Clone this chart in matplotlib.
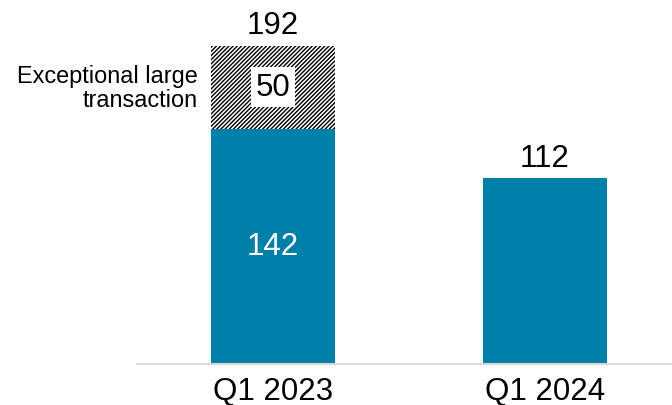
import matplotlib.pyplot as plt
import numpy as np

plt.rcParams['font.family'] = ['Liberation Sans', 'DejaVu Sans']
plt.rcParams['hatch.linewidth'] = 1.0

quarters = ['Q1 2023', 'Q1 2024']
base = [142, 112]
exceptional = [50, 0]
totals = [b + e for b, e in zip(base, exceptional)]

teal = '#0080A8'
x = np.arange(len(quarters))
width = 0.456

fig = plt.figure(figsize=(6.72, 4.06), dpi=100)
ax = fig.add_axes([137 / 672, 41 / 406, 535 / 672, 345 / 406])

ax.bar(x, base, width, color=teal)
ax.bar(x[:1], exceptional[:1], width, bottom=base[:1], color='white',
       edgecolor='black', hatch='////////', linewidth=0)

# totals above bars
for xi, t in zip(x, totals):
    ax.annotate(str(t), (xi, t), xytext=(0, 4), textcoords='offset points',
                ha='center', va='bottom', fontsize=22.5)

# value inside the teal part of the first bar
ax.text(x[0], base[0] / 2, str(base[0]), ha='center', va='center',
        fontsize=22.5, color='white')

# exceptional part label
mid = base[0] + exceptional[0] / 2
ax.text(x[0], mid, str(exceptional[0]), ha='center', va='center', fontsize=22.5,
        bbox=dict(facecolor='white', edgecolor='none', pad=3.5))
ax.text(x[0] - width / 2 - 0.05, mid, 'Exceptional large\ntransaction',
        ha='right', va='center', fontsize=16.9, linespacing=1.1)

ax.set_xlim(-0.5, 1.467)
ax.set_ylim(0, 208.3)
ax.set_xticks(x)
ax.set_xticklabels(quarters, fontsize=22.5)
ax.tick_params(axis='x', length=0, pad=8.5)
ax.set_yticks([])
for side in ['left', 'right', 'top']:
    ax.spines[side].set_visible(False)
ax.spines['bottom'].set_color('#D9D9D9')
ax.spines['bottom'].set_linewidth(1.5)

plt.savefig('out.png', dpi=100)
